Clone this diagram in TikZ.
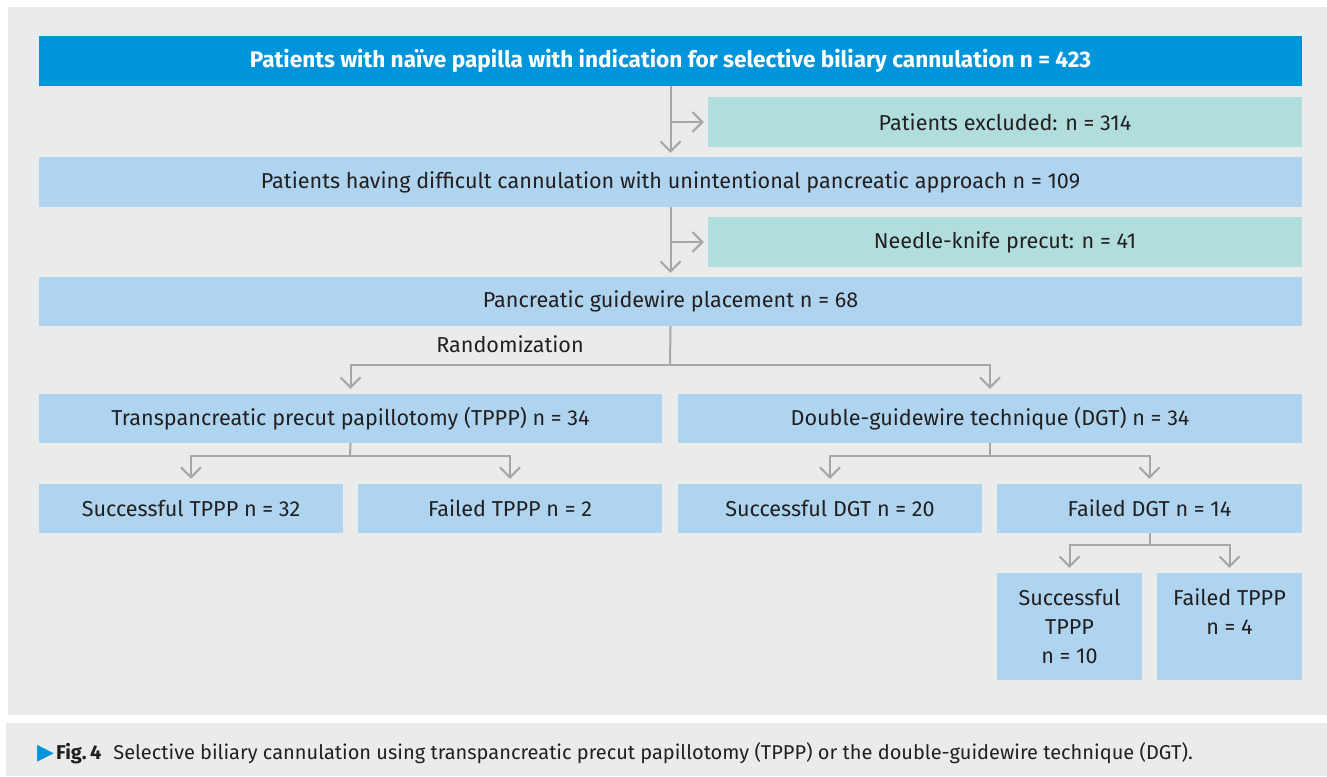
\documentclass[tikz,border=0pt]{standalone}
\usepackage{fontspec}
\setmainfont{Fira Sans}
\newfontfamily\symfont{DejaVu Sans}
\usetikzlibrary{arrows.meta}
\definecolor{panel}{HTML}{EAEBEB}
\definecolor{topblue}{HTML}{0095DA}
\definecolor{lblue}{HTML}{AED4EF}
\definecolor{teal}{HTML}{B1DEDC}
\definecolor{conn}{HTML}{A7A7A7}
\definecolor{txt}{HTML}{231F20}
\tikzset{
  box/.style={fill=lblue, draw=none, inner sep=0pt, text=txt, font=\fontsize{21.6}{29}\selectfont, align=center},
  exbox/.style={box, fill=teal},
  topbox/.style={box, fill=topblue, text=white, font=\fontsize{22.6}{29}\selectfont\bfseries},
  wire/.style={draw=conn, line width=2pt, miter limit=10},
  arr/.style={wire, -{Straight Barb[length=10pt,width=20pt,line width=2pt]}},
  both/.style={wire, {Straight Barb[length=10pt,width=20pt,line width=2pt]}-{Straight Barb[length=10pt,width=20pt,line width=2pt]}},
}
\begin{document}
\begin{tikzpicture}[x=1pt,y=-1pt]
\useasboundingbox (0,0) rectangle (1327,776);
\fill[panel] (8,7) rectangle (1327,715);
\fill[panel] (6,723) rectangle (1327,776);

\node[topbox, minimum width=1263pt, minimum height=50pt] (top) at (670.5,61) {Patients with naïve papilla with indication for selective biliary cannulation n = 423};
\node[exbox, minimum width=594pt, minimum height=50pt] (excl) at (1005,122) {Patients excluded: n = 314};
\node[box, minimum width=1263pt, minimum height=50pt] (diff) at (670.5,182) {Patients having difficult cannulation with unintentional pancreatic approach n = 109};
\node[exbox, minimum width=594pt, minimum height=50pt] (needle) at (1005,242) {Needle-knife precut: n = 41};
\node[box, minimum width=1263pt, minimum height=49pt] (panc) at (670.5,301.5) {Pancreatic guidewire placement n = 68};
\node[box, minimum width=623pt, minimum height=49pt] (tppp) at (350.5,418.5) {Transpancreatic precut papillotomy (TPPP) n = 34};
\node[box, minimum width=624pt, minimum height=49pt] (dgt) at (990,418.5) {Double-guidewire technique (DGT) n = 34};
\node[box, minimum width=304pt, minimum height=49pt] (s1) at (191,508.5) {Successful TPPP n = 32};
\node[box, minimum width=304pt, minimum height=49pt] (f1) at (510,508.5) {Failed TPPP n = 2};
\node[box, minimum width=304pt, minimum height=49pt] (s2) at (830,508.5) {Successful DGT n = 20};
\node[box, minimum width=305pt, minimum height=49pt] (f2) at (1149.5,508.5) {Failed DGT n = 14};
\node[box, minimum width=145pt, minimum height=107pt] (s3) at (1069.5,626.5) {Successful\\TPPP\\n = 10};
\node[box, minimum width=145pt, minimum height=107pt] (f3) at (1229.5,626.5) {Failed TPPP\\n = 4\\\phantom{n = 10}};

\node[text=txt, font=\fontsize{21.6}{24}\selectfont] (rndlbl) at (510,344) {Randomization};

\coordinate (rnd) at (670,365);
\coordinate (b1) at (350,456);
\coordinate (b2) at (990,456);
\coordinate (b3) at (1149.5,545);

% top -> diff, branch to excluded
\draw[arr] (top.south) -- ([yshift=4pt]diff.north);
\draw[arr] (top.south |- excl.west) -- ([xshift=-4pt]excl.west);
% diff -> panc, branch to needle
\draw[arr] (diff.south) -- ([yshift=4pt]panc.north);
\draw[arr] (diff.south |- needle.west) -- ([xshift=-4pt]needle.west);
% randomization
\draw[wire] (panc.south) -- (rnd);
\draw[both] ([yshift=5pt]tppp.north) |- (rnd) -| ([yshift=5pt]dgt.north);
% TPPP split
\draw[wire] (tppp.south) -- (b1);
\draw[both] ([yshift=5pt]s1.north) |- (b1) -| ([yshift=5pt]f1.north);
% DGT split
\draw[wire] (dgt.south) -- (b2);
\draw[both] ([yshift=5pt]s2.north) |- (b2) -| ([yshift=5pt]f2.north);
% Failed DGT split
\draw[wire] (f2.south) -- (b3);
\draw[both] ([yshift=5pt]s3.north) |- (b3) -| ([yshift=5pt]f3.north);

\node[anchor=base west, text=txt, inner sep=0pt, font=\fontsize{20}{24}\selectfont] (cap) at (37,759)
  {{\symfont\color{topblue}\fontsize{22}{22}\selectfont ▶}\hspace{2pt}{\bfseries Fig.\,4}\hspace{12pt}Selective biliary cannulation using transpancreatic precut papillotomy (TPPP) or the double-guidewire technique (DGT).};
\end{tikzpicture}
\end{document}
